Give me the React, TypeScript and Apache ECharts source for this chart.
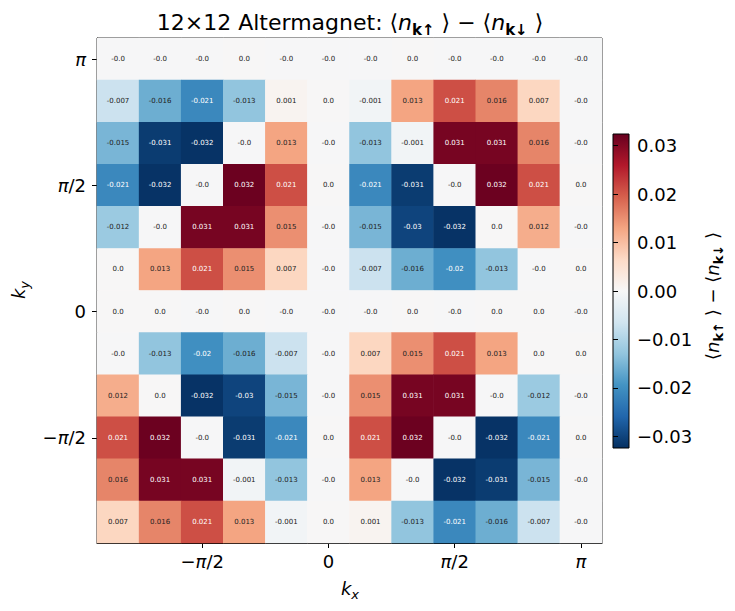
import React, { useEffect, useRef } from "react";
import * as echarts from "echarts";

// k index n (k = 2πn/12) along each axis
const kIdx = [-5, -4, -3, -2, -1, 0, 1, 2, 3, 4, 5, 6];

// tick positions (n) and their labels (rich text)
const tickNs = [-3, 0, 3, 6];
const tickTexts = ["{t|−}{i|π}{t|/2}", "{t|0}", "{i|π}{t|/2}", "{i|π}"];

// colour bar ticks
const cbTicks = [-0.03, -0.02, -0.01, 0.0, 0.01, 0.02, 0.03];
const VMAX = 0.0324;

// values, rows from top (ky = π) to bottom (ky = -5π/6), columns kx = -5π/6 .. π
const values: number[][] = [
  [-0.0002, -0.0002, -0.0002, 0.0002, -0.0002, -0.0002, -0.0002, 0.0002, -0.0002, -0.0002, -0.0002, -0.0003],
  [-0.007, -0.016, -0.021, -0.013, 0.001, 0.0002, -0.001, 0.013, 0.021, 0.016, 0.007, -0.0002],
  [-0.015, -0.031, -0.032, -0.0002, 0.013, -0.0002, -0.013, -0.001, 0.031, 0.031, 0.016, -0.0002],
  [-0.021, -0.032, -0.0002, 0.032, 0.021, 0.0002, -0.021, -0.031, -0.0002, 0.032, 0.021, 0.0002],
  [-0.012, -0.0002, 0.031, 0.031, 0.015, -0.0002, -0.015, -0.03, -0.032, 0.0002, 0.012, -0.0002],
  [0.0002, 0.013, 0.021, 0.015, 0.007, -0.0002, -0.007, -0.016, -0.02, -0.013, -0.0002, 0.0002],
  [0.0002, 0.0002, -0.0002, 0.0002, -0.0002, -0.0002, -0.0002, 0.0002, -0.0002, 0.0002, 0.0002, -0.0002],
  [-0.0002, -0.013, -0.02, -0.016, -0.007, -0.0002, 0.007, 0.015, 0.021, 0.013, 0.0002, 0.0002],
  [0.012, 0.0002, -0.032, -0.03, -0.015, -0.0002, 0.015, 0.031, 0.031, -0.0002, -0.012, -0.0002],
  [0.021, 0.032, -0.0002, -0.031, -0.021, 0.0002, 0.021, 0.032, -0.0002, -0.032, -0.021, 0.0002],
  [0.016, 0.031, 0.031, -0.001, -0.013, -0.0002, 0.013, -0.0002, -0.032, -0.031, -0.015, -0.0002],
  [0.007, 0.016, 0.021, 0.013, -0.001, 0.0002, 0.001, -0.013, -0.021, -0.016, -0.007, -0.0002],
];

const RDBU_R = [
  "#053061", "#2166ac", "#4393c3", "#92c5de", "#d1e5f0", "#f7f7f7",
  "#fddbc7", "#f4a582", "#d6604d", "#b2182b", "#67001f",
];

const FONT = "DejaVu Sans";

function fmt(v: number): string {
  const r = Math.round(v * 1000) / 1000;
  if (r === 0) return v < 0 ? "-0.0" : "0.0";
  return String(r);
}

function cbFmt(v: number): string {
  const s = Math.abs(v).toFixed(2);
  return v < -1e-9 ? "−" + s : s;
}

const tickRich = {
  t: { fontFamily: FONT, fontSize: 18, color: "#000" },
  i: { fontFamily: FONT, fontSize: 18, fontStyle: "italic", color: "#000" },
};

export default function App() {
  const ref = useRef<HTMLDivElement>(null);
  useEffect(() => {
    const chart = echarts.init(ref.current!, null, { renderer: "svg" });
    const n = values.length;
    const data: any[] = [];
    values.forEach((row, r) => {
      row.forEach((v, c) => {
        data.push({
          value: [c, n - 1 - r, v],
          label: { color: Math.abs(v) > 0.0175 ? "#ffffff" : "#222222" },
        });
      });
    });
    const cats = kIdx.map(String);
    const showTick = (i: number) => tickNs.indexOf(kIdx[i]) >= 0;
    const tickLabel = (val: string) => {
      const k = tickNs.indexOf(Number(val));
      return k >= 0 ? tickTexts[k] : "";
    };
    const gradStops = RDBU_R.map((c, i) => ({ offset: i / (RDBU_R.length - 1), color: c }));

    const option: any = {
      animation: false,
      backgroundColor: "#fff",
      textStyle: { fontFamily: FONT },
      grid: [
        { left: 97, top: 38, width: 505, height: 505, show: true, borderColor: "#000", borderWidth: 1, backgroundColor: "transparent" },
        {
          left: 613, top: 134, width: 16, height: 314, show: true, borderColor: "#000", borderWidth: 1,
          backgroundColor: new echarts.graphic.LinearGradient(0, 1, 0, 0, gradStops),
        },
      ],
      xAxis: [
        {
          type: "category", gridIndex: 0, data: cats,
          axisLine: { show: true, lineStyle: { color: "#000", width: 1 } },
          axisTick: { show: true, alignWithLabel: true, interval: (i: number) => showTick(i), length: 5, lineStyle: { color: "#000" } },
          axisLabel: { interval: (i: number) => showTick(i), formatter: tickLabel, rich: tickRich, margin: 9 },
          splitLine: { show: false },
        },
        { type: "value", gridIndex: 1, show: false, min: 0, max: 1 },
      ],
      yAxis: [
        {
          type: "category", gridIndex: 0, data: cats,
          axisLine: { show: true, lineStyle: { color: "#000", width: 1 } },
          axisTick: { show: true, alignWithLabel: true, interval: (i: number) => showTick(i), length: 5, lineStyle: { color: "#000" } },
          axisLabel: { interval: (i: number) => showTick(i), formatter: tickLabel, rich: tickRich, margin: 11 },
          splitLine: { show: false },
        },
        {
          type: "value", gridIndex: 1, position: "right", min: -VMAX, max: VMAX,
          axisLine: { show: false },
          axisTick: { show: true, customValues: cbTicks, length: 5, lineStyle: { color: "#000" } },
          axisLabel: { customValues: cbTicks, formatter: cbFmt, fontFamily: FONT, fontSize: 18, color: "#000", margin: 8 },
          splitLine: { show: false },
        },
      ],
      visualMap: {
        show: false, type: "continuous", min: -VMAX, max: VMAX, seriesIndex: 0, dimension: 2,
        inRange: { color: RDBU_R },
      },
      series: [
        {
          type: "heatmap", xAxisIndex: 0, yAxisIndex: 0, data,
          label: {
            show: true, fontFamily: FONT, fontSize: 7, color: "#222222", textBorderWidth: 0,
            formatter: (p: any) => fmt(p.value[2]),
          },
          emphasis: { disabled: true },
        },
      ],
      graphic: [
        {
          type: "text", x: 350, y: 22,
          style: {
            text: "{a|12×12 Altermagnet: ⟨}{n|n}{s|k↑}{a| ⟩ − ⟨}{n|n}{s|k↓}{a| ⟩}",
            align: "center", verticalAlign: "middle", fill: "#000",
            rich: {
              a: { fontFamily: FONT, fontSize: 22, fill: "#000", lineHeight: 30 },
              n: { fontFamily: FONT, fontSize: 22, fontStyle: "italic", fill: "#000", lineHeight: 30 },
              s: { fontFamily: FONT, fontSize: 15, fontWeight: "bold", fill: "#000", verticalAlign: "bottom", lineHeight: 30 },
            },
          },
        },
        {
          type: "text", x: 350, y: 588,
          style: {
            text: "{n|k}{s|x}", align: "center", verticalAlign: "middle",
            rich: {
              n: { fontFamily: FONT, fontSize: 18, fontStyle: "italic", fill: "#000", lineHeight: 26 },
              s: { fontFamily: FONT, fontSize: 13, fontStyle: "italic", fill: "#000", verticalAlign: "bottom", lineHeight: 26 },
            },
          },
        },
        {
          type: "text", x: 18, y: 290, rotation: Math.PI / 2,
          style: {
            text: "{n|k}{s|y}", align: "center", verticalAlign: "middle",
            rich: {
              n: { fontFamily: FONT, fontSize: 18, fontStyle: "italic", fill: "#000", lineHeight: 26 },
              s: { fontFamily: FONT, fontSize: 13, fontStyle: "italic", fill: "#000", verticalAlign: "bottom", lineHeight: 26 },
            },
          },
        },
        {
          type: "text", x: 712, y: 296, rotation: Math.PI / 2,
          style: {
            text: "{a|⟨}{n|n}{s|k↑}{a| ⟩ − ⟨}{n|n}{s|k↓}{a| ⟩}", align: "center", verticalAlign: "middle",
            rich: {
              a: { fontFamily: FONT, fontSize: 18, fill: "#000", lineHeight: 26 },
              n: { fontFamily: FONT, fontSize: 18, fontStyle: "italic", fill: "#000", lineHeight: 26 },
              s: { fontFamily: FONT, fontSize: 13, fontWeight: "bold", fill: "#000", verticalAlign: "bottom", lineHeight: 26 },
            },
          },
        },
      ],
    };
    chart.setOption(option);
    return () => chart.dispose();
  }, []);
  return <div ref={ref} style={{ position: "absolute", left: 0, top: 0, width: 735, height: 611 }} />;
}
